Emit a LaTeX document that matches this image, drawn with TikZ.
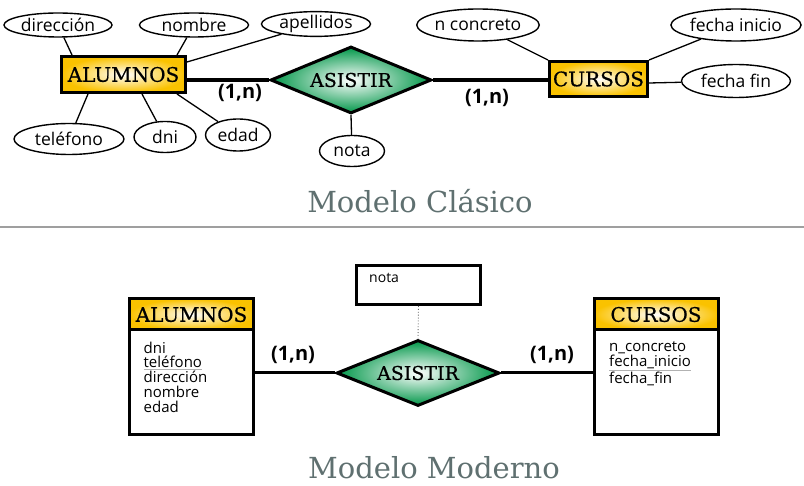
\documentclass[tikz,border=0pt]{standalone}
\usepackage{fontspec}
\setmainfont{Open Sans}
\newfontfamily\slab{DejaVu Serif}
\newfontfamily\slabm[FakeBold=0.6]{DejaVu Serif}
\usetikzlibrary{shapes.geometric,calc}
\definecolor{gold}{RGB}{250,194,0}
\definecolor{erg}{RGB}{0,150,72}
\definecolor{titgray}{RGB}{95,112,112}
\newcommand\grayul[1]{{\color{gray!60}$\underline{\hbox{\color{black}#1}}$}}
\begin{document}
\begin{tikzpicture}[x=1pt,y=-1pt,
  attr/.style={ellipse, draw, line width=1.4pt, inner sep=0pt, font=\fontsize{17.5}{17.5}\selectfont},
  ent/.style={draw, line width=3pt, inner color=white, outer color=gold, inner sep=0pt, font=\slabm\fontsize{20}{20}\selectfont},
  rel/.style={diamond, aspect=2.5, draw, line width=3pt, inner color=white, outer color=erg, inner sep=0pt, font=\slabm\fontsize{19}{19}\selectfont},
  conn/.style={line width=1.3pt},
  thickconn/.style={line width=4.5pt},
  midconn/.style={line width=3pt},
  card/.style={font=\bfseries\fontsize{20}{20}\selectfont, inner sep=0pt},
  hdr/.style={draw, line width=3pt, outer sep=0pt, inner sep=0pt, inner color=white, outer color=gold, minimum width=124pt, minimum height=31pt, font=\slabm\fontsize{20}{20}\selectfont},
  tbody/.style={draw, line width=3pt, outer sep=0pt, fill=white, minimum width=124pt, minimum height=105pt},
  attrlist/.style={anchor=north west, inner sep=0pt, align=left, font=\fontsize{15}{14.8}\selectfont},
  title/.style={text=titgray, font=\slab\fontsize{29}{29}\selectfont, inner sep=0pt}
]
\useasboundingbox (0,0) rectangle (804,486);

% ---------- Modelo Clasico ----------
\node[ent, minimum width=124pt, minimum height=36pt] (alum) at (123.5,74.5) {ALUMNOS};
\node[rel, minimum width=161pt, minimum height=67pt] (asis) at (351,80) {ASISTIR};
\node[ent, minimum width=98pt, minimum height=35pt] (cur) at (598.5,79) {CURSOS};

\draw[thickconn] (asis.west) -- (asis.west -| alum.east);
\draw[thickconn] (asis.east) -- (asis.east -| cur.west);

\node[card] (c1) at (240,93) {(1,n)};
\node[card] (c2) at (487,98) {(1,n)};

\node[attr, minimum width=108pt, minimum height=24pt] (dir) at (58,25) {dirección};
\node[attr, minimum width=109pt, minimum height=24pt] (nom) at (194,25) {nombre};
\node[attr, minimum width=109pt, minimum height=24pt] (ape) at (316,24) {apellidos};
\node[attr, minimum width=110pt, minimum height=31pt] (tel) at (69,139) {teléfono};
\node[attr, minimum width=62pt, minimum height=31pt] (dni) at (165,137) {dni};
\node[attr, minimum width=65pt, minimum height=32pt] (eda) at (238,135) {edad};
\node[attr, minimum width=65pt, minimum height=31pt] (nota) at (352,151) {nota};
\node[attr, minimum width=108pt, minimum height=32pt] (nco) at (478,25) {n concreto};
\node[attr, minimum width=109pt, minimum height=32pt] (fin) at (736,25) {fecha inicio};
\node[attr, minimum width=109pt, minimum height=33pt] (ffi) at (736,81) {fecha fin};

\draw[conn] (dir) -- ($(alum.north west)+(12,0)$);
\draw[conn] (nom) -- ($(alum.north west)+(117,0)$);
\draw[conn] (ape) -- ($(alum.north east)+(0,7)$);
\draw[conn] (tel) -- ($(alum.south west)+(28,0)$);
\draw[conn] (dni) -- ($(alum.south west)+(82,0)$);
\draw[conn] (eda) -- ($(alum.south west)+(117,0)$);
\draw[conn] (nota) -- (asis.south);
\draw[conn] (nco) -- (cur.north west);
\draw[conn] (fin) -- (cur.north east);
\draw[conn] (ffi) -- ($(cur.east)+(0,4)$);

\node[title] (t1) at (420,201) {Modelo Clásico};

\draw[gray!75, line width=1.5pt] (0,227) -- (804,227);

% ---------- Modelo Moderno ----------
\node[hdr] (alh) at (191.5,314.5) {ALUMNOS};
\node[tbody, anchor=north] (alb) at (alh.south) {};
\node[hdr] (alh) at (191.5,314.5) {ALUMNOS};
\node[attrlist] (ala) at ($(alb.north west)+(14,11.5)$) {dni\\\grayul{teléfono}\\dirección\\nombre\\edad};

\node[hdr] (cuh) at (656,314.5) {CURSOS};
\node[tbody, anchor=north] (cub) at (cuh.south) {};
\node[hdr] (cuh) at (656,314.5) {CURSOS};
\node[attrlist] (cua) at ($(cub.north west)+(15,11.5)$) {n\_concreto\\\grayul{fecha\_inicio}\\fecha\_fin};

\node[rel, minimum width=163pt, minimum height=66pt] (asis2) at (418,373) {ASISTIR};
\draw[midconn] (asis2.west) -- (asis2.west -| alb.east);
\draw[midconn] (asis2.east) -- (asis2.east -| cub.west);

\node[draw, line width=3pt, minimum width=124pt, minimum height=39pt, inner sep=0pt] (notab) at (418.5,285) {};
\node[anchor=north west, inner sep=0pt, font=\fontsize{14}{14}\selectfont] (notat) at ($(notab.north west)+(14,9)$) {nota};
\draw[gray!80!black, line width=0.9pt, dotted] (notab.south) -- (asis2.north);

\node[card] (c3) at (293,355) {(1,n)};
\node[card] (c4) at (552,355) {(1,n)};

\node[title] (t2) at (434,468) {Modelo Moderno};
\end{tikzpicture}
\end{document}
